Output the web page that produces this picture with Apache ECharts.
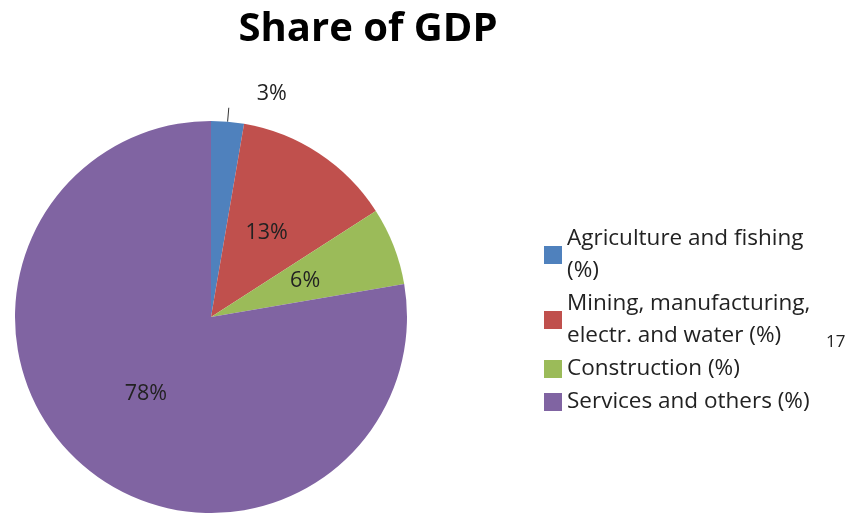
<!DOCTYPE html>
<html>
<head>
<meta charset="utf-8">
<script src="https://cdn.jsdelivr.net/npm/echarts@6/dist/echarts.min.js"></script>
<style>html,body{margin:0;padding:0;background:#fff}#c{width:847px;height:513px}</style>
</head>
<body>
<div id="c"></div>
<script>
var categories = ['Agriculture and fishing (%)', 'Mining, manufacturing, electr. and water (%)', 'Construction (%)', 'Services and others (%)'];
var legendLabels = ['Agriculture and fishing\n(%)', 'Mining, manufacturing,\nelectr. and water (%)', 'Construction (%)', 'Services and others (%)'];
var values = [2.7, 13.2, 6.4, 77.7];
var colors = ['#4F81BD', '#C0504D', '#9BBB59', '#8064A2'];

var chart = echarts.init(document.getElementById('c'));
var data = categories.map(function (c, i) {
  var d = { name: c, value: values[i], itemStyle: { color: colors[i] } };
  if (i === 0) {
    d.label = { position: 'outside', distanceToLabelLine: 28 };
    d.labelLine = { show: true, length: 14, length2: 0, lineStyle: { color: '#333', width: 1 } };
  }
  return d;
});
chart.setOption({
  animation: false,
  title: {
    text: 'Share of GDP', left: 363, top: 5, textAlign: 'center',
    textStyle: { fontFamily: 'Open Sans', fontWeight: 'bold', fontSize: 40, color: '#000' }
  },
  legend: {
    orient: 'vertical', left: 539, top: 218, itemWidth: 18, itemHeight: 18, itemGap: 1,
    icon: 'rect',
    formatter: function (n) { return legendLabels[categories.indexOf(n)]; },
    textStyle: { fontFamily: 'Open Sans', fontSize: 22.5, color: '#222', lineHeight: 32 }
  },
  graphic: [{ type: 'text', left: 826, top: 334, style: { text: '17', font: '17px "Open Sans"', fill: '#222' } }],
  series: [{
    type: 'pie', center: [211, 317], radius: 196, startAngle: 90, clockwise: true,
    avoidLabelOverlap: false,
    itemStyle: { borderWidth: 0 },
    label: {
      show: true, position: 'inside', color: '#222', fontFamily: 'Open Sans', fontSize: 21.5,
      formatter: function (p) { return Math.round(p.value) + '%'; }
    },
    labelLine: { show: false },
    labelLayout: function (p) {
      if (p.dataIndex === 0) { return { dy: -14 }; }
    },
    data: data
  }]
});
</script>
</body>
</html>
